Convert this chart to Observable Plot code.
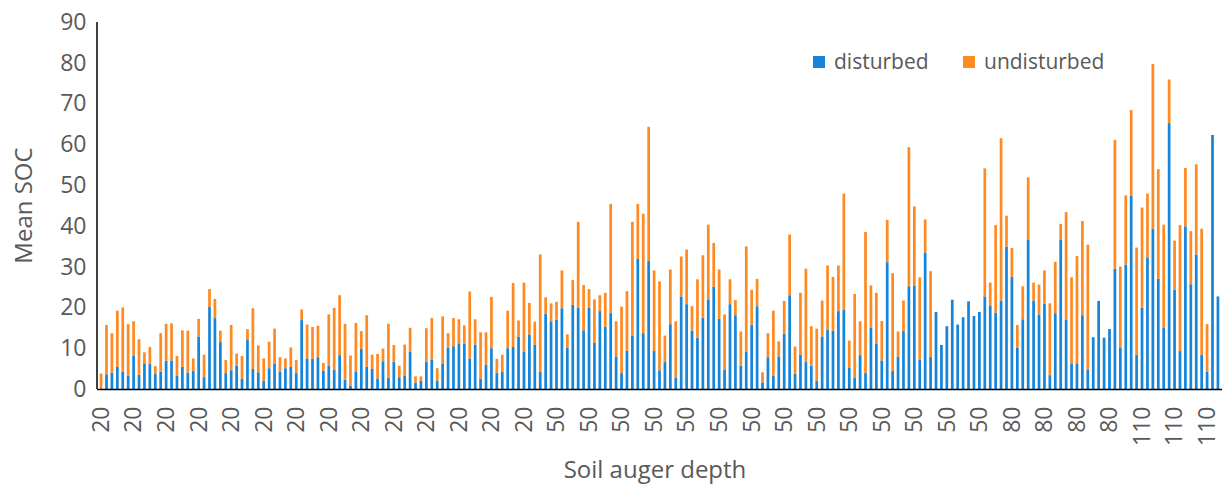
<!DOCTYPE html>
<html>
<head>
<meta charset="utf-8">
<script src="https://cdn.jsdelivr.net/npm/d3@7"></script>
<script src="https://cdn.jsdelivr.net/npm/@observablehq/plot@0.6"></script>
<style>
  html, body { margin: 0; padding: 0; background: #fff; }
  #chart { width: 1222px; height: 484px; }
</style>
</head>
<body>
<div id="chart"></div>
<script>
// ---- data ----
const seriesNames = ["disturbed", "undisturbed"];
const seriesColors = ["#1684D9", "#FF8A22"];

const disturbed = [
  0.0, 3.6, 4.0, 5.4, 4.3, 3.3, 8.1, 3.5, 6.3, 6.1, 3.7, 4.3, 6.9, 7.0, 3.2, 5.4, 4.0, 4.5, 12.9, 2.9,
  20.1, 17.4, 11.5, 3.9, 4.6, 5.7, 2.5, 12.0, 4.9, 4.1, 2.0, 5.1, 6.3, 4.3, 5.1, 5.4, 3.9, 16.9, 7.5, 7.4,
  7.8, 4.5, 5.7, 4.8, 8.3, 2.3, 0.8, 4.3, 9.8, 5.4, 4.9, 2.6, 6.8, 2.8, 6.7, 2.9, 3.3, 9.2, 1.6, 2.0,
  6.7, 7.2, 2.0, 6.3, 10.2, 10.5, 11.2, 11.1, 7.5, 10.9, 2.5, 5.9, 10.0, 4.0, 4.3, 10.0, 10.3, 12.8, 9.2, 13.4,
  10.8, 4.3, 18.5, 16.6, 17.0, 19.8, 10.2, 20.6, 20.0, 14.4, 20.0, 11.3, 19.1, 15.3, 18.6, 8.0, 3.9, 9.4, 13.1, 31.9,
  13.7, 31.5, 9.3, 4.6, 6.6, 15.9, 2.7, 22.7, 20.8, 14.3, 12.6, 17.5, 22.0, 25.1, 17.2, 4.8, 20.8, 18.1, 5.7, 9.2,
  15.8, 20.3, 1.6, 7.8, 3.2, 8.0, 13.6, 23.0, 3.8, 8.4, 6.6, 5.7, 2.0, 12.9, 14.6, 14.3, 19.1, 19.5, 5.3, 2.7,
  8.3, 3.9, 15.0, 11.2, 7.0, 31.1, 4.4, 7.9, 14.2, 25.2, 25.4, 7.2, 33.5, 7.9, 18.9, 10.8, 15.4, 21.9, 15.8, 17.6,
  21.5, 17.9, 18.9, 22.7, 20.5, 18.7, 21.7, 34.9, 27.5, 10.2, 17.1, 36.7, 21.7, 18.3, 20.9, 3.4, 18.6, 36.7, 17.0, 6.3,
  6.3, 18.1, 4.8, 12.7, 21.6, 12.6, 14.7, 29.5, 10.2, 30.5, 47.5, 8.4, 19.9, 32.3, 39.3, 27.0, 15.1, 65.2, 24.4, 9.3,
  39.9, 25.7, 33.0, 8.4, 4.3, 62.3, 22.7
];

const undisturbed = [
  3.8, 12.1, 9.7, 13.8, 15.7, 12.6, 8.5, 8.7, 2.7, 4.2, 1.9, 9.4, 9.1, 9.1, 4.9, 9.0, 10.3, 3.0, 4.3, 5.5,
  4.4, 4.7, 2.8, 3.2, 11.1, 3.0, 5.6, 2.7, 14.9, 6.6, 5.5, 6.5, 8.5, 3.5, 2.4, 4.8, 3.2, 2.6, 8.3, 7.8,
  7.7, 1.9, 12.6, 15.1, 14.7, 13.7, 7.4, 11.9, 4.4, 12.7, 3.5, 6.0, 3.1, 13.2, 4.1, 2.8, 7.6, 5.8, 1.5, 1.1,
  8.2, 10.2, 3.1, 11.5, 3.5, 6.9, 5.9, 4.5, 16.4, 6.2, 11.4, 8.0, 12.6, 3.4, 4.1, 9.2, 15.7, 4.0, 16.9, 7.7,
  5.7, 28.7, 4.0, 4.4, 4.4, 9.3, 3.2, 6.1, 21.0, 11.1, 4.5, 10.7, 3.9, 8.3, 26.8, 8.6, 16.3, 14.6, 27.9, 13.5,
  29.3, 32.8, 19.8, 21.8, 6.5, 13.4, 13.9, 9.8, 13.4, 6.0, 14.3, 15.3, 18.3, 10.7, 12.1, 13.5, 6.1, 3.7, 8.4, 25.8,
  8.5, 6.7, 2.5, 5.9, 16.0, 3.7, 8.0, 14.9, 6.6, 15.2, 22.9, 9.7, 12.8, 8.8, 15.7, 13.2, 11.2, 28.4, 6.6, 20.6,
  8.3, 34.6, 10.4, 12.4, 9.7, 10.4, 24.0, 6.2, 7.5, 34.1, 19.4, 20.2, 8.1, 21.0, 0, 0, 0, 0, 0, 0,
  0, 0, 0, 31.4, 5.6, 21.5, 39.8, 7.6, 7.1, 5.5, 8.1, 15.2, 4.4, 7.3, 8.2, 17.6, 12.6, 3.8, 26.4, 21.1,
  26.3, 23.1, 30.6, 0, 0, 0, 0, 31.6, 19.8, 17.0, 20.9, 26.3, 24.6, 15.6, 40.4, 26.9, 25.2, 10.7, 12.0, 30.9,
  14.3, 13.0, 22.1, 30.9, 11.6, 0, 0
];

// depth label shown under every 6th bar
const tickLabels = [
  "20", "20", "20", "20", "20", "20", "20", "20", "20", "20", "20", "20", "20", "20",
  "50", "50", "50", "50", "50", "50", "50", "50", "50", "50", "50", "50", "50", "50",
  "80", "80", "80", "80",
  "110", "110", "110"
];
const tickEvery = 6;
const yTicks = [0, 10, 20, 30, 40, 50, 60, 70, 80, 90];

const xTitle = "Soil auger depth";
const yTitle = "Mean SOC";

// ---- build ----
const n = disturbed.length;
const idx = d3.range(n);
const rows = idx.flatMap(i => [
  {i, series: seriesNames[0], v: disturbed[i]},
  {i, series: seriesNames[1], v: undisturbed[i]}
]);
const tickIdx = tickLabels.map((_, k) => k * tickEvery);
const textColor = "#595959";

const chart = Plot.plot({
  width: 1222,
  height: 484,
  marginLeft: 97,
  marginRight: 0,
  marginTop: 22,
  marginBottom: 95,
  style: {fontFamily: "'Open Sans', sans-serif", fontSize: "22px", color: textColor, background: "#fff"},
  x: {type: "band", domain: idx, padding: 0.5, axis: null},
  y: {domain: [0, 90], axis: null},
  color: {domain: seriesNames, range: seriesColors},
  marks: [
    Plot.barY(rows, {x: "i", y: "v", fill: "series"}),
    Plot.axisX({ticks: tickIdx, tickFormat: i => tickLabels[i / tickEvery], tickRotate: -90,
      tickSize: 0, tickPadding: 17, fontSize: 23, label: null}),
    Plot.axisY({ticks: yTicks, tickSize: 0, tickPadding: 11, fontSize: 23, label: null}),
    Plot.ruleY([0], {stroke: "#000", strokeWidth: 1.5})
  ]
});

document.getElementById("chart").appendChild(chart);

// y axis line, titles and legend placed with the chart's own scales
const svg = d3.select(chart);
const ys = chart.scale("y");
const x0 = 97;
svg.append("line")
  .attr("x1", x0).attr("x2", x0)
  .attr("y1", ys.apply(90)).attr("y2", ys.apply(0))
  .attr("stroke", "#000").attr("stroke-width", 1.5);

svg.append("text")
  .attr("transform", `translate(24,${(ys.apply(0) + ys.apply(90)) / 2}) rotate(-90)`)
  .attr("text-anchor", "middle").attr("dy", "0.35em")
  .attr("fill", textColor).style("font-size", "24px")
  .text(yTitle);

svg.append("text")
  .attr("x", 655).attr("y", 470)
  .attr("text-anchor", "middle").attr("dy", "0.35em")
  .attr("fill", textColor).style("font-size", "24px")
  .text(xTitle);

const legendX = [813, 963];
const legend = svg.append("g");
seriesNames.forEach((name, k) => {
  legend.append("rect").attr("x", legendX[k]).attr("y", 56).attr("width", 12).attr("height", 12)
    .attr("fill", seriesColors[k]);
  legend.append("text").attr("x", legendX[k] + 21).attr("y", 62).attr("dy", "0.35em")
    .attr("text-anchor", "start")
    .attr("fill", textColor).style("font-size", "21px").text(name);
});
</script>
</body>
</html>
